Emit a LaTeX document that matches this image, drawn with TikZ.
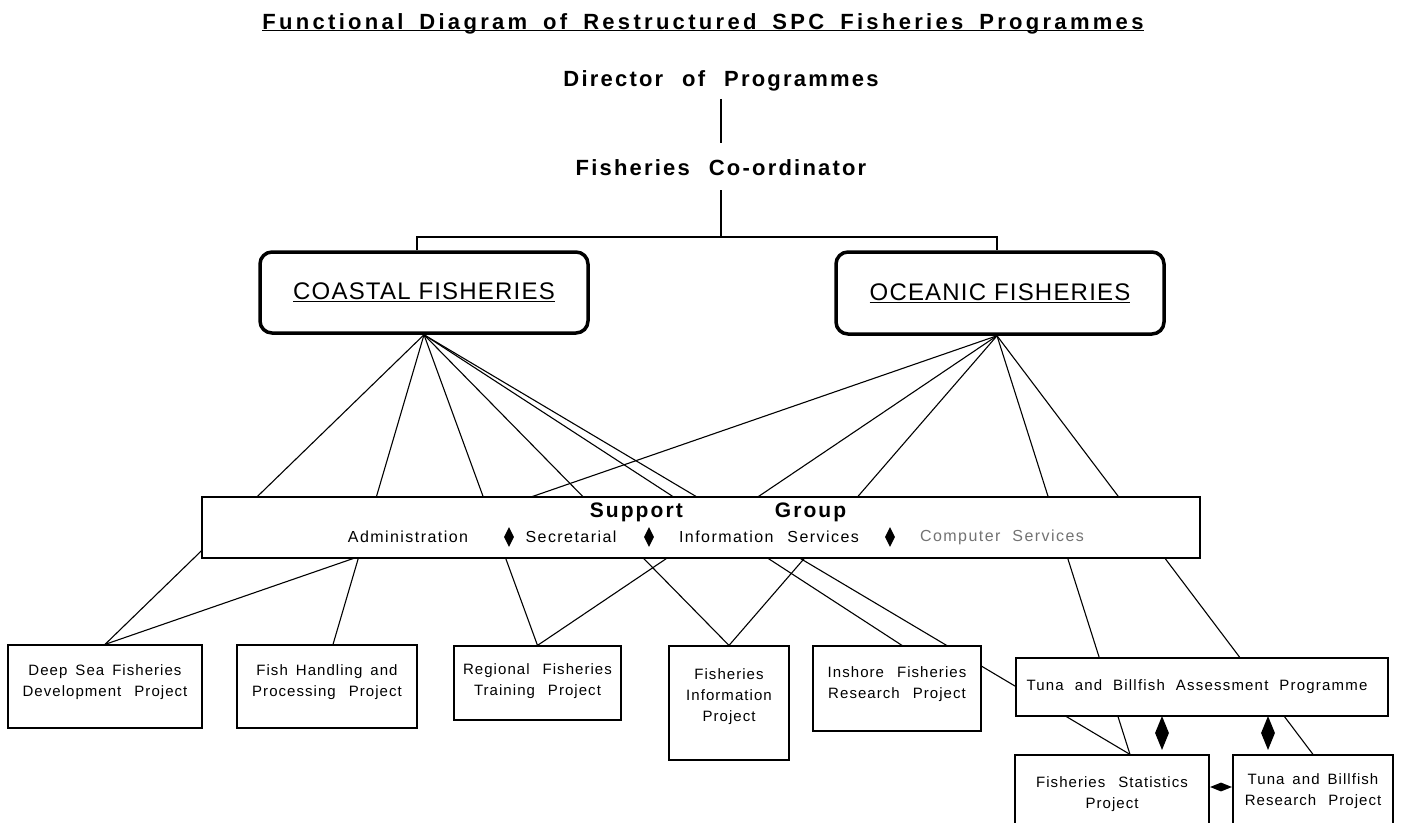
\documentclass[tikz,border=0pt]{standalone}
\usepackage{fontspec}
\setmainfont{Liberation Sans}
\usetikzlibrary{shapes.geometric,backgrounds}
\newcommand\ttlfont{\fontsize{22}{26}\selectfont\bfseries\addfontfeature{LetterSpace=15}\spaceskip=16pt\relax}
\newcommand\hdrfont{\fontsize{22}{26}\selectfont\bfseries\addfontfeature{LetterSpace=10}\spaceskip=19pt\relax}
\newcommand\bigfont{\fontsize{24}{28}\selectfont\addfontfeature{LetterSpace=5}}
\newcommand\sgfont{\fontsize{21}{24}\selectfont\bfseries\addfontfeature{LetterSpace=10}}
\newcommand\pfont{\fontsize{15}{21}\selectfont\addfontfeature{LetterSpace=7}\spaceskip=8pt\relax}
\newcommand\afont{\fontsize{15}{21}\selectfont\addfontfeature{LetterSpace=8}\spaceskip=11pt\relax}
\newcommand\sfont{\fontsize{16}{20}\selectfont\addfontfeature{LetterSpace=9}\spaceskip=8pt\relax}
\begin{document}
\begin{tikzpicture}[x=1pt,y=-1pt,
  conn/.style={line width=1.1pt},
  pbox/.style={draw,line width=1.2pt,fill=white,inner sep=0pt},
  bigbox/.style={draw,line width=3.5pt,rounded corners=12pt,fill=white,inner sep=0pt,font=\bigfont},
  hdr/.style={inner sep=0pt,font=\hdrfont},
  ptext/.style={inner sep=0pt,align=center,font=\pfont},
  stext/.style={inner sep=0pt,font=\sfont},
  dia/.style={diamond,fill=black,draw=none,inner sep=0pt}
]
\useasboundingbox (0,0) rectangle (1404,822);

% headings
\node[inner sep=0pt,anchor=base,font=\ttlfont] (title) at (703,29)
  {\underline{\smash{Functional Diagram of Restructured SPC Fisheries Programmes}}};
\node[hdr,anchor=base] (director) at (721,86) {Director of Programmes};
\node[hdr,anchor=base] (fc) at (721,175) {Fisheries Co-ordinator};
\coordinate (bar) at (721,237);

% divisions
\node[bigbox,minimum width=328pt,minimum height=81pt] (coastal) at (424,292.5) {\underline{COASTAL FISHERIES}};
\node[bigbox,minimum width=328pt,minimum height=82pt] (oceanic) at (1000,293) {\underline{OCEANIC FISHERIES}};

% support group
\node[pbox,minimum width=998pt,minimum height=61pt] (support) at (701,527.5) {};
\node[inner sep=0pt,font=\sgfont] (sg) at (718,512) {Support\hspace{92pt}Group};
\node[stext] (admin) at (408,537) {Administration};
\node[dia,minimum width=10pt,minimum height=20pt] (d1) at (509,537) {};
\node[stext] (secr) at (571,537) {Secretarial};
\node[dia,minimum width=10pt,minimum height=20pt] (d2) at (649,537) {};
\node[stext] (info) at (769,537) {Information\hspace{14pt}Services};
\node[dia,minimum width=10pt,minimum height=20pt] (d3) at (890,537) {};
\node[stext,text=black!55] (comp) at (1002,537) {Computer\hspace{12pt}Services};

% projects
\node[pbox,minimum width=194pt,minimum height=83pt] (deep) at (105,686.5) {};
\node[ptext] (deeptext) at (105,682) {Deep Sea Fisheries\\Development\hspace{5pt} Project};
\node[pbox,minimum width=180pt,minimum height=83pt] (fish) at (327,686.5) {};
\node[ptext] (fishtext) at (327,682) {Fish Handling and\\Processing\hspace{5pt} Project};
\node[pbox,minimum width=167pt,minimum height=74pt] (regional) at (537.5,683) {};
\node[ptext] (regtext) at (537.5,681) {Regional\hspace{5pt} Fisheries\\Training\hspace{5pt} Project};
\node[pbox,minimum width=120pt,minimum height=114pt] (finfo) at (729,703) {};
\node[ptext] (finfotext) at (729,697) {Fisheries\\Information\\Project};
\node[pbox,minimum width=168pt,minimum height=85pt] (inshore) at (897,688.5) {};
\node[ptext] (inshtext) at (897,684) {Inshore\hspace{5pt} Fisheries\\Research\hspace{5pt} Project};
\node[pbox,minimum width=372pt,minimum height=58pt] (assess) at (1202,687) {};
\node[ptext,font=\afont] (asstext) at (1197,687) {Tuna and Billfish Assessment Programme};
\node[pbox,minimum width=194pt,minimum height=80pt] (stats) at (1112,795) {};
\node[ptext] (statstext) at (1112,794) {Fisheries\hspace{5pt} Statistics\\Project};
\node[pbox,minimum width=160pt,minimum height=80pt] (research) at (1313,795) {};
\node[ptext] (restext) at (1313,791) {Tuna and Billfish\\Research\hspace{4pt} Project};

% link diamonds
\node[dia,minimum width=14pt,minimum height=34pt] (da1) at (1162,733) {};
\node[dia,minimum width=14pt,minimum height=34pt] (da2) at (1268,733) {};
\node[dia,minimum width=22pt,minimum height=9pt] (dh) at (1221,787) {};

\begin{pgfonlayer}{background}
\fill[white] (0,0) rectangle (1404,822);
\draw[conn] ([yshift=-8pt]director.south) -- ([yshift=16pt]fc.north);
\draw[conn] ([yshift=-15pt]fc.south) -- (bar);
\draw[conn] ([xshift=-7pt]coastal.north) |- (bar) -| ([xshift=-3pt]oceanic.north);
\draw[conn] (coastal.south) -- (deep.north);
\draw[conn] (coastal.south) -- ([xshift=6pt]fish.north);
\draw[conn] (coastal.south) -- (regional.north);
\draw[conn] (coastal.south) -- (finfo.north);
\draw[conn] (coastal.south) -- ([xshift=5pt]inshore.north);
\draw[conn] (coastal.south) -- ([xshift=18pt]stats.north);
\draw[conn] ([xshift=-3pt]oceanic.south) -- (deep.north);
\draw[conn] ([xshift=-3pt]oceanic.south) -- (regional.north);
\draw[conn] ([xshift=-3pt]oceanic.south) -- (finfo.north);
\draw[conn] ([xshift=-3pt]oceanic.south) -- ([xshift=18pt]stats.north);
\draw[conn] ([xshift=-3pt]oceanic.south) -- (research.north);
\end{pgfonlayer}
\end{tikzpicture}
\end{document}
